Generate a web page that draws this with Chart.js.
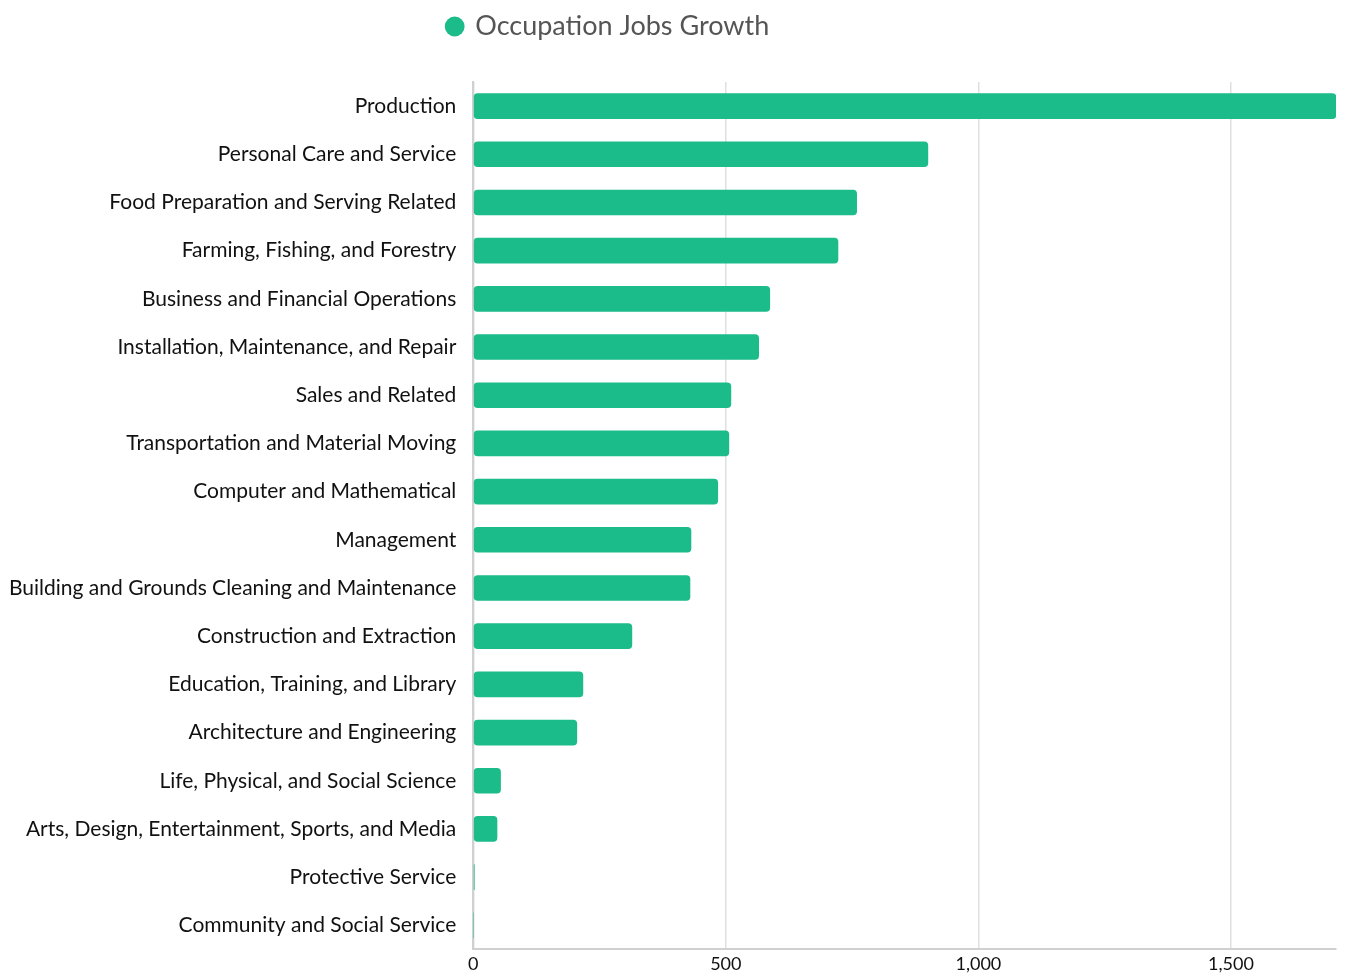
<!DOCTYPE html>
<html>
<head>
<meta charset="utf-8">
<style>
  html, body { margin: 0; padding: 0; background: #fff; }
  #wrap { width: 1348px; height: 979px; }
</style>
<script src="https://cdn.jsdelivr.net/npm/chart.js@4"></script>
</head>
<body>
<div id="wrap"><canvas id="graph"></canvas></div>
<script>
"use strict";
const OCCUPATIONS = [
    "Production", "Personal Care and Service", "Food Preparation and Serving Related",
    "Farming, Fishing, and Forestry", "Business and Financial Operations",
    "Installation, Maintenance, and Repair", "Sales and Related",
    "Transportation and Material Moving", "Computer and Mathematical", "Management",
    "Building and Grounds Cleaning and Maintenance", "Construction and Extraction",
    "Education, Training, and Library", "Architecture and Engineering",
    "Life, Physical, and Social Science", "Arts, Design, Entertainment, Sports, and Media",
    "Protective Service", "Community and Social Service",
];
const JOBS_GROWTH = [
    1708, 900, 759, 722, 587, 565, 510, 506, 484, 431, 429, 314, 217, 205, 54, 47, 2, 0,
];
const X_TICKS = [0, 500, 1000, 1500];

// legend sits left of the canvas centre and has extra room below it
const legendTweak = {
    id: "legendTweak",
    beforeInit(chart) {
        const fit = chart.legend.fit;
        chart.legend.fit = function () {
            fit.bind(chart.legend)();
            this.height += 32;
        };
    },
    afterLayout(chart) {
        chart.legend.left = 0;
        chart.legend.right = 1217;
    },
};

function drawGraph() {
    const data = {
        labels: OCCUPATIONS,
        datasets: [
            {
                label: "Occupation Jobs Growth",
                data: JOBS_GROWTH,
                backgroundColor: "rgb(27, 187, 138)",
                borderRadius: 4,
                borderSkipped: false,
                barThickness: 25,
            },
        ],
    };
    const config = {
        type: "bar",
        data,
        plugins: [legendTweak],
        options: {
            indexAxis: "y",
            animation: false,
            responsive: true,
            maintainAspectRatio: false,
            layout: { padding: { right: 12, left: -8 } },
            plugins: {
                tooltip: { enabled: false },
                legend: {
                    labels: {
                        usePointStyle: true,
                        pointStyle: "circle",
                        boxWidth: 14,
                        boxHeight: 14,
                        padding: 13,
                        color: "#555",
                        font: { family: "Lato", size: 27 },
                    },
                },
            },
            scales: {
                x: {
                    type: "linear",
                    min: 0,
                    max: Math.max(...JOBS_GROWTH),
                    afterBuildTicks: function (axis) {
                        axis.ticks = X_TICKS.map(function (v) { return { value: v }; });
                    },
                    afterFit: function (axis) {
                        axis.height = 28;
                    },
                    grid: { color: "#e0e0e0", lineWidth: 1.5, drawTicks: false },
                    border: { color: "#d0d0d0", width: 2 },
                    ticks: {
                        color: "#111",
                        padding: 4,
                        font: { family: "Lato", size: 18 },
                        callback: function (value) { return value.toLocaleString("en-US"); },
                    },
                },
                y: {
                    grid: { display: false, drawTicks: false },
                    border: { color: "#d0d0d0", width: 2 },
                    ticks: {
                        color: "#111",
                        padding: 17,
                        font: { family: "Lato", size: 21 },
                    },
                },
            },
        },
    };
    new Chart(document.getElementById("graph"), config);
}
drawGraph();
</script>
</body>
</html>
